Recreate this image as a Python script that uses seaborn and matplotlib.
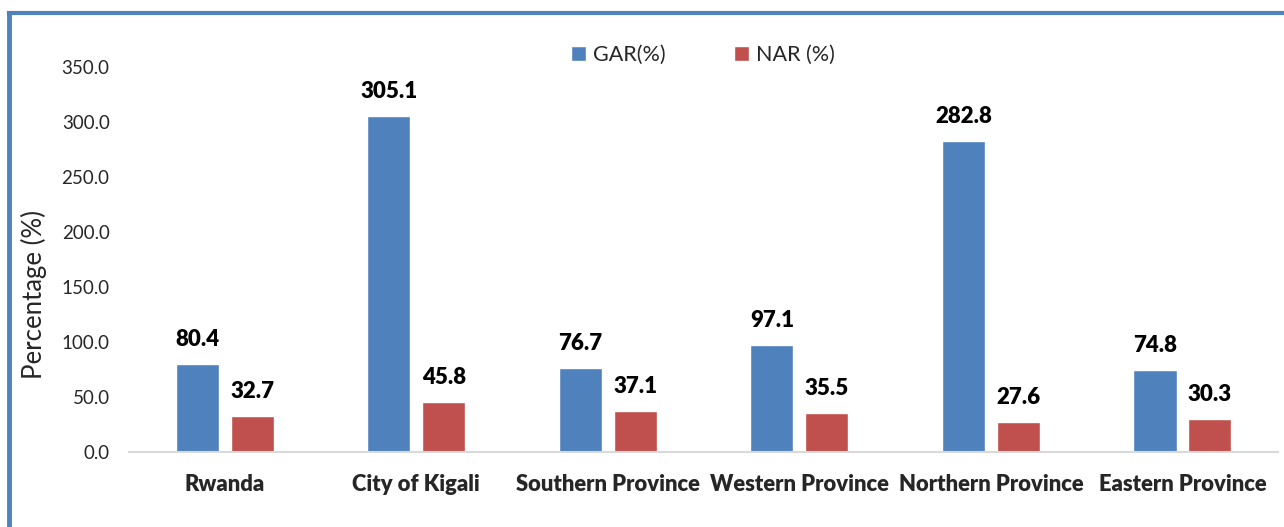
import matplotlib
matplotlib.use("Agg")
import matplotlib.pyplot as plt
import seaborn as sns
import pandas as pd
from matplotlib.lines import Line2D

categories = ["Rwanda", "City of Kigali", "Southern Province", "Western Province",
              "Northern Province", "Eastern Province"]
gar = [80.4, 305.1, 76.7, 97.1, 282.8, 74.8]
nar = [32.7, 45.8, 37.1, 35.5, 27.6, 30.3]
series_names = ["GAR(%)", "NAR (%)"]
yticks = [0, 50, 100, 150, 200, 250, 300, 350]

df = pd.DataFrame({
    "Region": categories * 2,
    "Value": gar + nar,
    "Series": [series_names[0]] * len(categories) + [series_names[1]] * len(categories),
})

sns.set_theme(style="white")
plt.rcParams["font.family"] = ["Lato", "DejaVu Sans"]

fig = plt.figure(figsize=(12.84, 5.27), dpi=100)
ax = fig.add_axes([0.1005, 0.1423, 0.895, 0.7306])

sns.barplot(data=df, x="Region", y="Value", hue="Series", order=categories,
            hue_order=series_names, palette=["#4F81BD", "#C0504D"],
            width=0.574, gap=0.216, ax=ax, errorbar=None, saturation=1)

for cont in ax.containers:
    ax.bar_label(cont, labels=[f"{v:.1f}" for v in cont.datavalues], padding=10,
                 fontsize=16, fontweight="heavy", color="#000000")

ax.set_ylim(0, 350)
ax.set_yticks(yticks)
ax.set_yticklabels([f"{v:.1f}" for v in yticks], fontsize=13.5)
ax.set_xlim(-0.5, len(categories) - 0.5)
ax.set_xticks(range(len(categories)))
ax.set_xticklabels(categories, fontsize=15.8, fontweight="heavy")
ax.tick_params(axis="x", length=0, pad=16)
ax.tick_params(axis="y", length=0, pad=14)
ax.set_xlabel("")
ax.set_ylabel("Percentage (%)", fontsize=18.5)
ax.yaxis.set_label_coords(-0.0714, 0.408)

for s in ["top", "right", "left"]:
    ax.spines[s].set_visible(False)
ax.spines["bottom"].set_color("#d9d9d9")
ax.spines["bottom"].set_linewidth(1.5)

ax.legend(loc="center", bbox_to_anchor=(703 / 1284, 1 - 55 / 527),
          bbox_transform=fig.transFigure, ncol=2, frameon=False,
          fontsize=15.5, handlelength=0.7, handleheight=0.7, columnspacing=3.2,
          handletextpad=0.3, borderpad=0)

# figure border (left and top)
fig.add_artist(Line2D([9 / 1284, 9 / 1284], [0, 1 - 13 / 527], color="#4F81BD",
                      lw=3.5, transform=fig.transFigure, solid_capstyle="projecting"))
fig.add_artist(Line2D([9 / 1284, 1], [1 - 13 / 527, 1 - 13 / 527], color="#4F81BD",
                      lw=3, transform=fig.transFigure, solid_capstyle="projecting"))

fig.savefig("out.png", dpi=100)
